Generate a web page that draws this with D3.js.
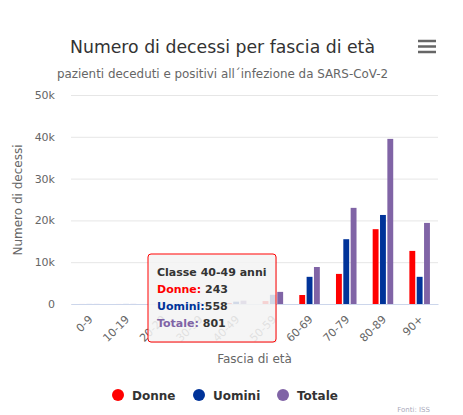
<!DOCTYPE html>
<html><head><meta charset="utf-8">
<script src="https://cdn.jsdelivr.net/npm/d3@7"></script>
<style>
html,body{margin:0;padding:0;background:#fff;}
svg{display:block;font-family:"DejaVu Sans",sans-serif;}
</style></head>
<body>
<svg id="chart" width="463" height="415"></svg>
<script>
const categories = ["0-9","10-19","20-29","30-39","40-49","50-59","60-69","70-79","80-89","90+"];
const donne  = [5, 5, 20, 80, 243, 700, 2150, 7200, 17900, 12700];
const uomini = [8, 10, 50, 200, 558, 2200, 6500, 15500, 21300, 6500];
const totale = [13, 15, 70, 280, 801, 2900, 8850, 23000, 39500, 19400];
const yTicks = [0, 10000, 20000, 30000, 40000, 50000];
const seriesNames = ["Donne", "Uomini", "Totale"];
const seriesColors = ["#ff0000", "#003399", "#8064a6"];
const hoverIndex = 4;

const svg = d3.select("#chart");
const M = {left: 71, right: 438, top: 95, bottom: 304};

const x = d3.scaleBand().domain(categories).range([M.left, M.right]).paddingInner(0).paddingOuter(0);
const gx = d3.scaleBand().domain(seriesNames)
  .range([x.bandwidth()*0.2, x.bandwidth()*0.8]).paddingInner(0.2).paddingOuter(0.1);
const y = d3.scaleLinear().domain([0, 50000]).range([M.bottom, M.top]);

// Title
svg.append("text").attr("x", 222.5).attr("y", 53).attr("text-anchor","middle")
  .attr("fill","#333").style("font-size","17.3px").text("Numero di decessi per fascia di età");
svg.append("text").attr("x", 222.5).attr("y", 78).attr("text-anchor","middle")
  .attr("fill","#666").style("font-size","11.9px").text("pazienti deceduti e positivi all´infezione da SARS-CoV-2");

// hamburger
[41, 46.5, 52].forEach(v => svg.append("line").attr("x1",418).attr("x2",436).attr("y1",v).attr("y2",v)
  .attr("stroke","#666").attr("stroke-width",2.5));

// grid + y axis
const yAxis = d3.axisLeft(y).tickValues(yTicks).tickSize(-(M.right-M.left)).tickPadding(16)
  .tickFormat(d => d === 0 ? "0" : (d/1000) + "k");
const yg = svg.append("g").attr("transform", `translate(${M.left},0)`).call(yAxis);
yg.select(".domain").remove();
yg.selectAll(".tick line").attr("stroke","#e6e6e6");
yg.selectAll(".tick text").attr("fill","#666").style("font-size","11px").attr("font-family","DejaVu Sans");

svg.append("text").attr("transform","translate(22,200) rotate(-90)").attr("text-anchor","middle")
  .attr("fill","#666").style("font-size","12px").text("Numero di decessi");

// bars
const data = [donne, uomini, totale];
seriesNames.forEach((s, si) => {
  svg.append("g").selectAll("rect").data(categories).join("rect")
    .attr("x", c => x(c) + gx(s))
    .attr("width", gx.bandwidth())
    .attr("y", (c,i) => y(data[si][i]))
    .attr("height", (c,i) => y(0) - y(data[si][i]))
    .attr("fill", seriesColors[si]);
});

// x axis
const xAxis = d3.axisBottom(x).tickSize(0).tickPadding(0);
const xg = svg.append("g").attr("transform", `translate(0,${M.bottom})`).call(xAxis);
xg.select(".domain").attr("stroke","#ccd6eb");
xg.selectAll(".tick text").attr("fill","#666").style("font-size","11px").attr("font-family","DejaVu Sans")
  .attr("text-anchor","end").attr("dy",0).attr("y",0)
  .attr("transform","translate(4,16) rotate(-45)");

svg.append("text").attr("x", (M.left+M.right)/2).attr("y", 363).attr("text-anchor","middle")
  .attr("fill","#666").style("font-size","12px").text("Fascia di età");

// legend
const legX = [118, 199, 283];
seriesNames.forEach((s, i) => {
  svg.append("circle").attr("cx", legX[i]).attr("cy", 395).attr("r", 6).attr("fill", seriesColors[i]);
  svg.append("text").attr("x", legX[i]+14).attr("y", 399.5).attr("fill","#333")
    .style("font-size","12px").style("font-weight","bold").text(s);
});

// credits
svg.append("text").attr("x", 430).attr("y", 412).attr("text-anchor","end").attr("fill","#aab")
  .style("font-size","7px").text("Fonti: ISS");

// tooltip
const tt = svg.append("g").attr("transform","translate(148,254)");
tt.append("rect").attr("x",1).attr("y",1).attr("width",128).attr("height",88).attr("rx",3)
  .attr("fill","rgba(0,0,0,0.08)");
tt.append("rect").attr("width",128).attr("height",88).attr("rx",3)
  .attr("fill","rgba(247,247,247,0.85)").attr("stroke","#ff0000").attr("stroke-width",1);
const lines = [
  [["Classe " + categories[hoverIndex] + " anni", "#333"]],
  [["Donne:", seriesColors[0]], [" " + donne[hoverIndex], "#333"]],
  [["Uomini:", seriesColors[1]], [String(uomini[hoverIndex]), "#333"]],
  [["Totale:", seriesColors[2]], [" " + totale[hoverIndex], "#333"]]
];
lines.forEach((ln, li) => {
  const t = tt.append("text").attr("x", 9).attr("y", 22 + li*17)
    .style("font-size","11px").style("font-weight","bold");
  ln.forEach(([txt, col]) => t.append("tspan").attr("fill", col).text(txt));
});
</script>
</body></html>
